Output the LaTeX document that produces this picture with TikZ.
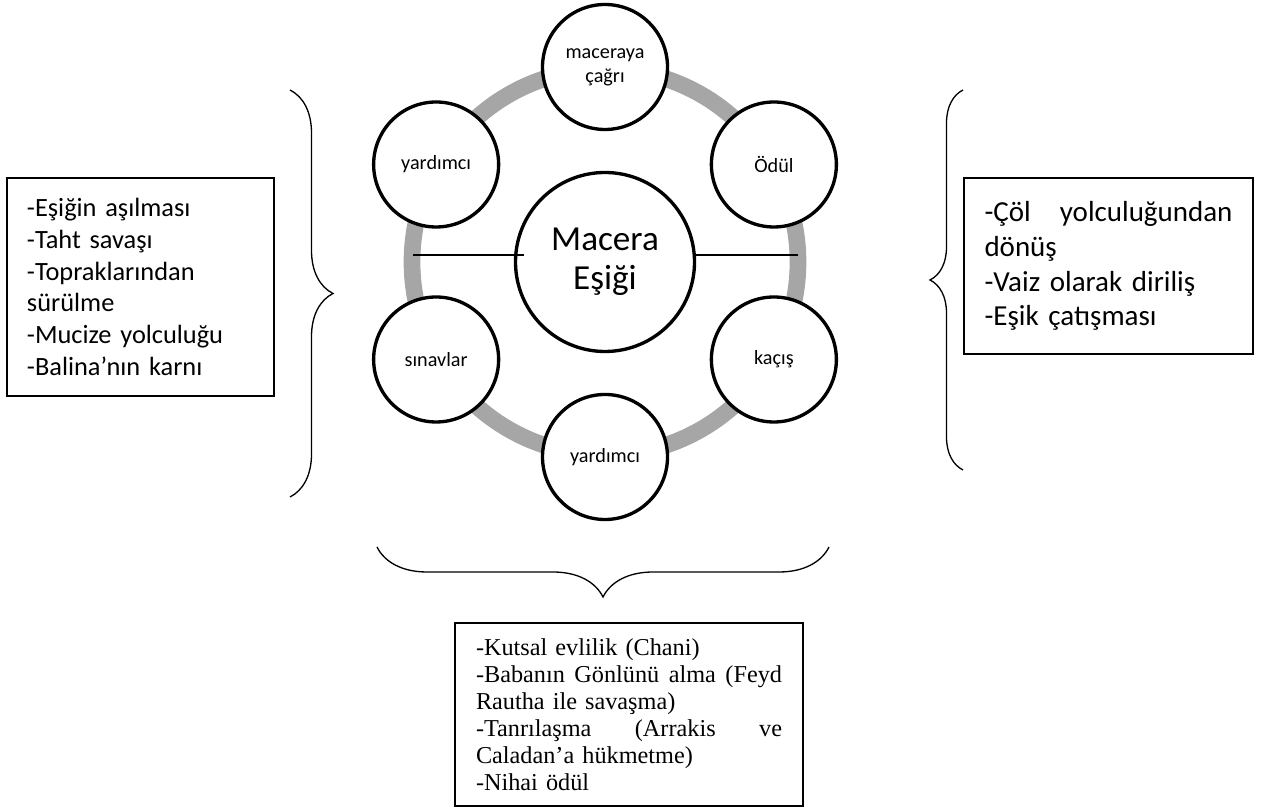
\documentclass[tikz,border=0pt]{standalone}
\usepackage{fontspec}
\setmainfont{Carlito}
\newfontfamily\timesfont{Liberation Serif}
\usepackage{tikz}
\usetikzlibrary{calc, decorations.pathreplacing}

\begin{document}
\begin{tikzpicture}[
    stage/.style={circle, draw, line width=1.9pt, fill=white, minimum size=2.5cm,
        inner sep=0pt, align=center, font=\fontsize{11.5}{13.5}\selectfont},
    hub/.style={circle, draw, line width=1.9pt, fill=white, minimum size=3.58cm,
        inner sep=0pt, align=center, font=\fontsize{20}{22}\selectfont},
    ring/.style={line width=9.5pt, color=black!35},
    divider/.style={line width=0.8pt},
    notebox/.style={draw, line width=1.1pt, inner ysep=0pt},
    bracket/.style={line width=0.75pt, decorate}
]
    \useasboundingbox (0,0) rectangle (25.44,16.2);

    % the wheel
    \coordinate (centre) at (12.1,10.96);
    \draw[ring] (centre) circle (3.86);

    \node[hub] (hub) at (centre) {Macera\\Eşiği};

    \foreach \ang/\nm/\txt in {90/call/{maceraya\\çağrı}, 30/reward/Ödül,
        -30/escape/kaçış, -90/helperb/yardımcı, 210/trials/sınavlar, 150/helpera/yardımcı}
        \node[stage] (\nm) at ([shift={(\ang:3.9)}]centre) {\txt};

    \coordinate (ringW) at ([shift={(-3.84,0.14)}]centre);
    \coordinate (ringE) at ([shift={(3.86,0.14)}]centre);
    \draw[divider] (ringW) -- ($(hub.west |- ringW)+(0.2,0)$);
    \draw[divider] (hub.east |- ringE) -- (ringE);

    % braces
    \draw[bracket, decoration={brace, amplitude=0.86cm}] (5.8,14.4) -- (5.8,6.26);
    \draw[bracket, decoration={brace, amplitude=0.66cm}] (19.26,6.8) -- (19.26,14.4);
    \draw[bracket, decoration={brace, amplitude=1cm}] (16.58,5.26) -- (7.54,5.26);

    % notes
    \node[notebox, text width=4.54cm, inner xsep=0.4cm, minimum height=4.36cm, align=left,
        font=\fontsize{15}{18.1}\selectfont] (crossing) at (2.81,10.46)
        {-Eşiğin aşılması\\-Taht savaşı\\-Topraklarından\\sürülme\\-Mucize yolculuğu\\-Balina’nın karnı};

    \node[notebox, text width=4.96cm, inner xsep=0.41cm, minimum height=3.52cm, align=left,
        font=\fontsize{16.5}{19.8}\selectfont] (return) at (22.17,10.88)
        {-Çöl\hfill yolculuğundan\\dönüş\\-Vaiz olarak diriliş\\-Eşik çatışması};

    \node[notebox, text width=6.12cm, inner xsep=0.42cm, minimum height=3.66cm, align=left,
        font=\timesfont\fontsize{13.8}{15.4}\selectfont] (boon) at (12.58,1.91)
        {-Kutsal evlilik (Chani)\\-Babanın\hfill Gönlünü\hfill alma\hfill (Feyd\\Rautha ile savaşma)\\
         -Tanrılaşma\hfill (Arrakis\hfill ve\\Caladan’a hükmetme)\\-Nihai ödül};

\end{tikzpicture}
\end{document}
